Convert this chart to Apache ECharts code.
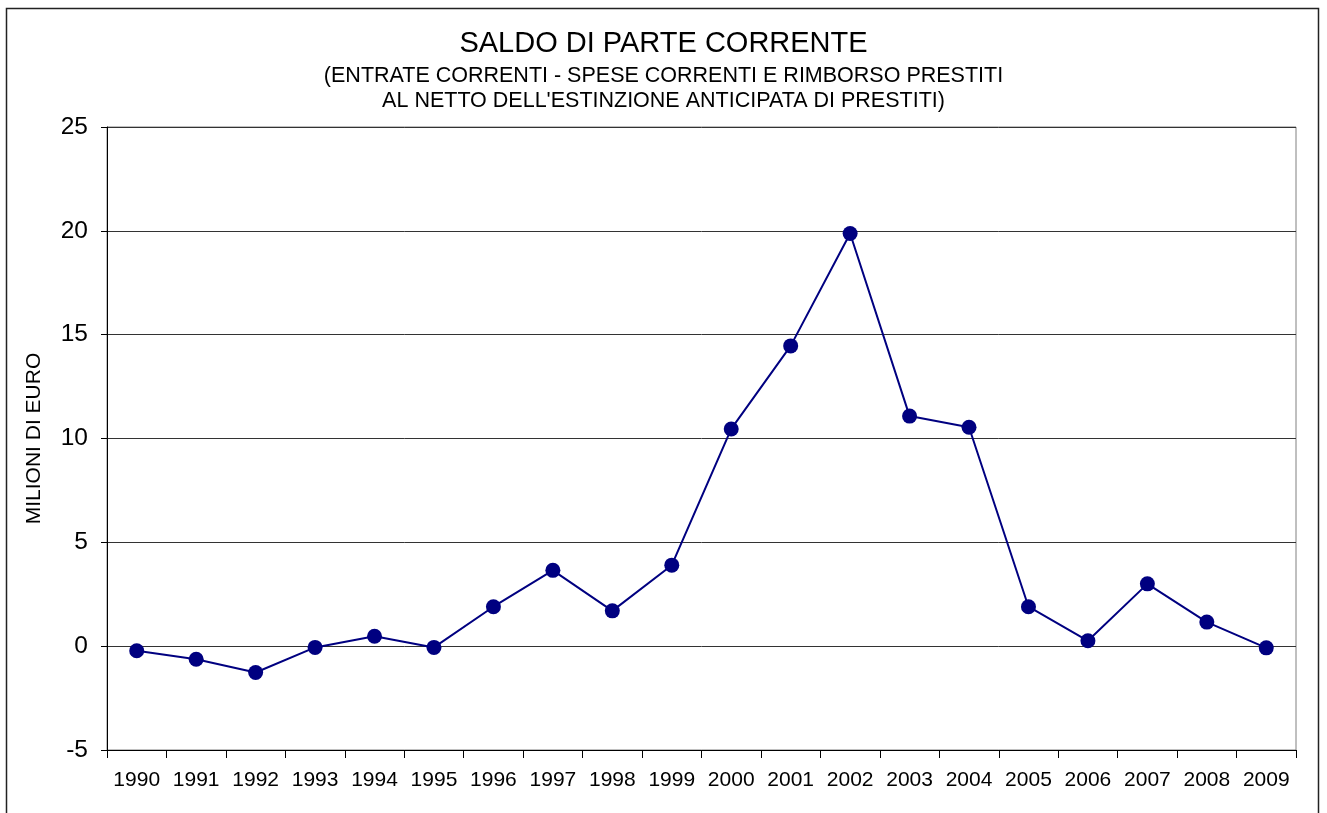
<!DOCTYPE html>
<html>
<head>
<meta charset="utf-8">
<script src="https://cdn.jsdelivr.net/npm/echarts@6/dist/echarts.min.js"></script>
<style>
  html, body { margin: 0; padding: 0; background: #fff; }
  #main { width: 1327px; height: 813px; }
</style>
</head>
<body>
<div id="main"></div>
<script>
// dati
var years = ['1990', '1991', '1992', '1993', '1994', '1995', '1996', '1997', '1998', '1999',
  '2000', '2001', '2002', '2003', '2004', '2005', '2006', '2007', '2008', '2009'];
var saldo = [-0.22, -0.63, -1.27, -0.06, 0.48, -0.06, 1.9, 3.65, 1.7, 3.9,
  10.46, 14.46, 19.87, 11.08, 10.54, 1.9, 0.26, 3.0, 1.16, -0.08];
var yTicks = [-5, 0, 5, 10, 15, 20, 25];

var chart = echarts.init(document.getElementById('main'));
var font = 'Liberation Sans, Arial, sans-serif';

var option = {
  backgroundColor: '#fff',
  animation: false,
  textStyle: { fontFamily: font },
  title: {
    text: 'SALDO DI PARTE CORRENTE',
    subtext: "(ENTRATE CORRENTI - SPESE CORRENTI E RIMBORSO PRESTITI\nAL NETTO DELL'ESTINZIONE ANTICIPATA DI PRESTITI)",
    left: 'center',
    top: 24,
    itemGap: 6,
    textStyle: { fontFamily: font, fontSize: 29, fontWeight: 'normal', color: '#000' },
    subtextStyle: { fontFamily: font, fontSize: 21.5, lineHeight: 25, color: '#000', align: 'center' }
  },
  graphic: [{
    type: 'rect',
    shape: { x: 6.5, y: 8.5, width: 1312, height: 900 },
    style: { fill: null, stroke: '#222', lineWidth: 1.5 },
    silent: true
  }],
  grid: {
    left: 107, top: 127, right: 31, bottom: 63,
    show: true, borderColor: '#808080', borderWidth: 1
  },
  xAxis: {
    type: 'category',
    data: years,
    boundaryGap: true,
    axisLine: { onZero: false, lineStyle: { color: '#000', width: 1 } },
    axisTick: { show: true, interval: 0, length: 8, lineStyle: { color: '#000' } },
    axisLabel: { interval: 0, fontSize: 21, color: '#000', margin: 20, fontFamily: font },
    splitLine: { show: false }
  },
  yAxis: {
    type: 'value',
    min: yTicks[0],
    max: yTicks[yTicks.length - 1],
    interval: 5,
    name: 'MILIONI DI EURO',
    nameLocation: 'middle',
    nameGap: 62,
    nameRotate: 90,
    nameTextStyle: { fontSize: 21, color: '#000', fontFamily: font },
    axisLine: { show: true, lineStyle: { color: '#000', width: 1 } },
    axisTick: { show: true, length: 6, lineStyle: { color: '#000' } },
    axisLabel: { fontSize: 24.5, color: '#000', margin: 19, fontFamily: font },
    splitLine: { show: true, lineStyle: { color: '#333', width: 1 } }
  },
  series: [{
    type: 'line',
    data: saldo,
    symbol: 'circle',
    symbolSize: 15,
    lineStyle: { color: '#000080', width: 2 },
    itemStyle: { color: '#000080' }
  }]
};
chart.setOption(option);
</script>
</body>
</html>
